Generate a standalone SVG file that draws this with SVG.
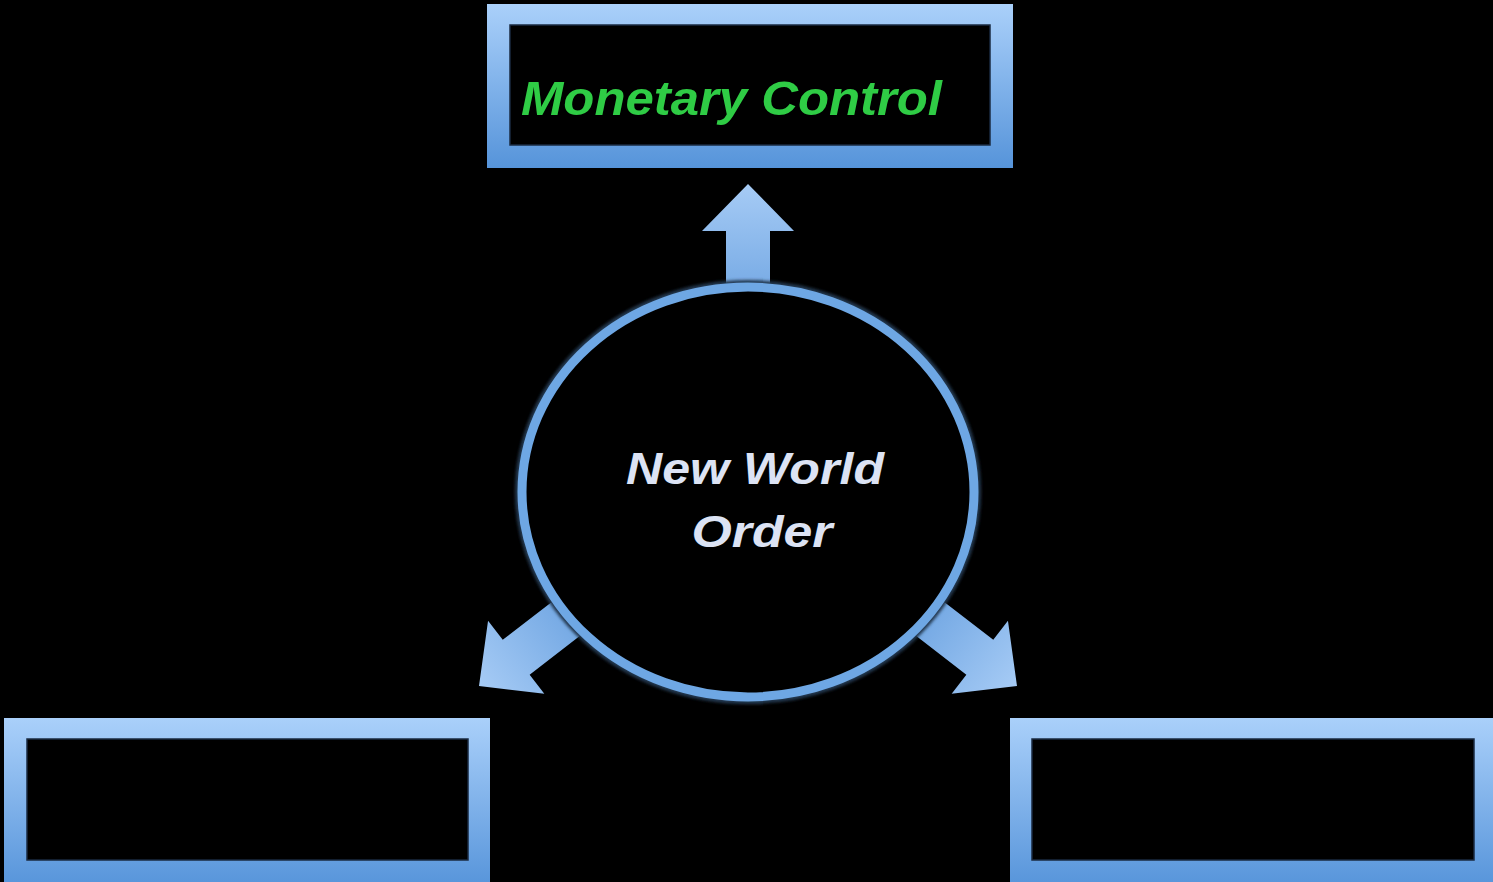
<svg xmlns="http://www.w3.org/2000/svg" width="1493" height="882" viewBox="0 0 1493 882">
<defs>
<linearGradient id="boxGrad" x1="0" y1="0" x2="0" y2="1">
<stop offset="0" stop-color="#aad0fa"/>
<stop offset="1" stop-color="#5694da"/>
</linearGradient>
<linearGradient id="arrGrad" x1="0" y1="0" x2="0" y2="1">
<stop offset="0" stop-color="#a6cbf5"/>
<stop offset="1" stop-color="#6fa5e2"/>
</linearGradient>
<filter id="glow" x="-5%" y="-5%" width="110%" height="110%">
<feGaussianBlur stdDeviation="1.5"/>
</filter>
<path id="arrow" d="M0,0 L46,47 L22,47 L22,125 L-22,125 L-22,47 L-46,47 Z"/>
<style>
.frame{fill:url(#boxGrad);}
.hole{fill:#000;stroke:#1a2a40;stroke-width:1.5;}
.arr{fill:url(#arrGrad);}
.lbl{font-family:"Liberation Sans",Arial,sans-serif;font-style:italic;font-weight:bold;}
</style>
</defs>
<rect width="1493" height="882" fill="#000"/>
<g id="connectors">
<use href="#arrow" class="arr" transform="translate(748,184)"/>
<use href="#arrow" class="arr" transform="translate(479,686) rotate(-127.7)"/>
<use href="#arrow" class="arr" transform="translate(1017,686) rotate(127.7)"/>
</g>
<g id="node-center">
<ellipse cx="748" cy="492" rx="226" ry="205" fill="#000" stroke="#24384f" stroke-width="14" filter="url(#glow)"/>
<ellipse cx="748" cy="492" rx="226" ry="205" fill="#000" stroke="#6ea7e4" stroke-width="9"/>
<text class="lbl" x="755" y="484" text-anchor="middle" font-size="44" fill="#dce3f4" textLength="258" lengthAdjust="spacingAndGlyphs">New World</text>
<text class="lbl" x="762" y="547" text-anchor="middle" font-size="44" fill="#dce3f4" textLength="141" lengthAdjust="spacingAndGlyphs">Order</text>
</g>
<g id="node-top">
<rect x="487" y="4" width="526" height="164" class="frame"/>
<rect x="510" y="25" width="480" height="120" class="hole"/>
<text class="lbl" x="521" y="115" font-size="49" fill="#2fcc45" textLength="421" lengthAdjust="spacingAndGlyphs">Monetary Control</text>
</g>
<g id="node-left">
<rect x="4" y="718" width="486" height="170" class="frame"/>
<rect x="27" y="739" width="441" height="121" class="hole"/>
</g>
<g id="node-right">
<rect x="1010" y="718" width="490" height="170" class="frame"/>
<rect x="1032" y="739" width="442" height="121" class="hole"/>
</g>
</svg>
